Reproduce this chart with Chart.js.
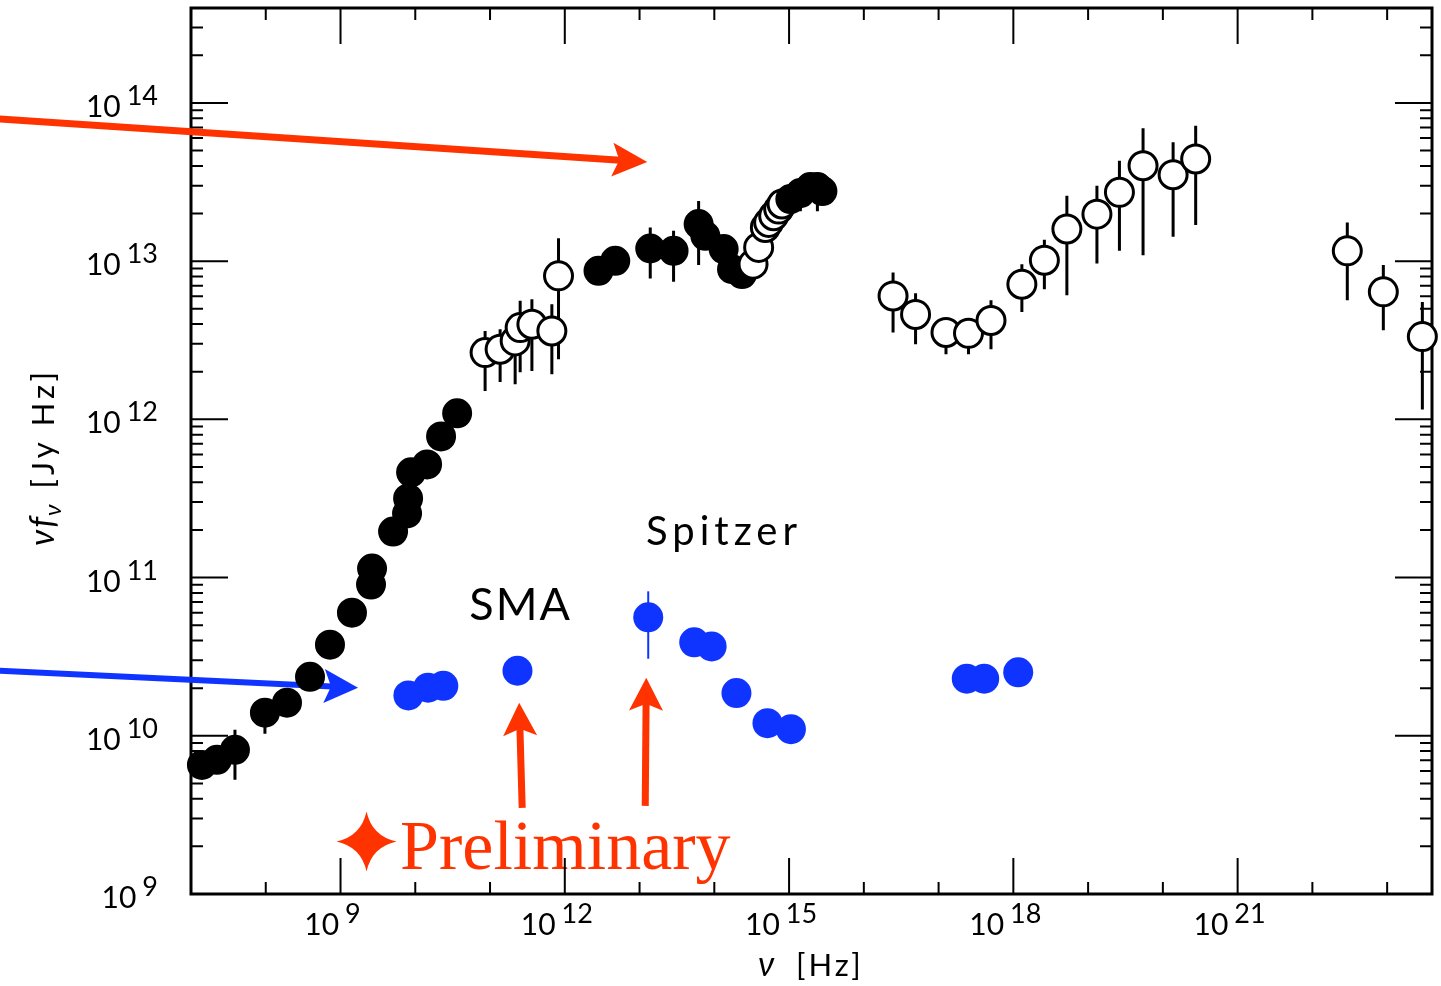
<!DOCTYPE html>
<html>
<head>
<meta charset="utf-8">
<script src="https://cdn.jsdelivr.net/npm/chart.js@4.4.1/dist/chart.umd.min.js"></script>
<style>
  html, body { margin: 0; padding: 0; background: #fff; }
  #wrap { width: 1441px; height: 986px; position: relative; }
</style>
</head>
<body>
<div id="wrap"><canvas id="sed"></canvas></div>
<script>
// values are log10: x = log10(nu / Hz), y = log10(nu f_nu / Jy Hz)

// radio (filled black)
const blackLoX = [7.146, 7.347, 7.588, 7.989, 8.284, 8.592, 8.859, 9.153, 9.408, 9.422, 9.703, 9.890, 9.904, 9.944, 10.158, 10.345, 10.560];
const blackLoY = [9.816, 9.848, 9.911, 10.146, 10.209, 10.373, 10.576, 10.778, 10.956, 11.057, 11.291, 11.405, 11.500, 11.665, 11.715, 11.892, 12.038];
const blackLoErrLo = [null, null, 9.722, 10.013, null, null, null, null, null, null, null, null, null, null, null, null, null];
const blackLoErrHi = [null, null, 10.038, null, null, null, null, null, null, null, null, null, null, null, null, null, 12.12];

// sub-mm (open)
const openMmX = [10.934, 11.135, 11.336, 11.403, 11.560, 11.827, 11.916];
const openMmY = [12.422, 12.443, 12.496, 12.580, 12.601, 12.559, 12.907];
const openMmErrLo = [12.179, 12.236, 12.222, 12.297, 12.306, 12.285, 12.380];
const openMmErrHi = [12.559, 12.570, 12.665, 12.749, 12.759, 12.728, 13.144];

// infrared (filled black)
const blackIrX = [12.451, 12.675, 13.143, 13.455, 13.790, 13.880, 14.125, 14.237, 14.371];
const blackIrY = [12.939, 13.002, 13.080, 13.065, 13.234, 13.160, 13.076, 12.949, 12.918];
const blackIrErrLo = [null, null, 12.891, 12.869, 12.975, null, null, null, null];
const blackIrErrHi = [null, null, 13.213, 13.192, 13.380, null, null, null, null];

// optical (open)
const openOptX = [14.518, 14.593, 14.683, 14.727, 14.794, 14.861, 14.906];
const openOptY = [12.981, 13.087, 13.213, 13.245, 13.287, 13.329, 13.361];

// UV (filled black)
const blackUvX = [15.017, 15.151, 15.285, 15.379, 15.446];
const blackUvY = [13.392, 13.430, 13.468, 13.468, 13.443];
const blackUvErrLo = [null, 13.316, null, 13.316, null];
const blackUvErrHi = [null, null, null, null, null];

// X-ray (open)
const openXrX = [16.391, 16.692, 17.099, 17.400, 17.701, 18.114, 18.415, 18.716, 19.118, 19.419, 19.735, 20.137, 20.439];
const openXrY = [12.780, 12.663, 12.549, 12.544, 12.625, 12.854, 13.006, 13.203, 13.297, 13.435, 13.603, 13.546, 13.646];
const openXrErrLo = [12.549, 12.475, 12.411, 12.411, 12.443, 12.679, 12.823, 12.785, 12.985, 13.065, 13.038, 13.154, 13.228];
const openXrErrHi = [12.928, 12.797, 12.549, 12.544, 12.753, 12.980, 13.135, 13.413, 13.477, 13.635, 13.840, 13.751, 13.856];

// gamma-ray (open)
const openGamX = [22.467, 22.949, 23.471];
const openGamY = [13.065, 12.806, 12.523];
const openGamErrLo = [12.753, 12.563, 12.063];
const openGamErrHi = [13.245, 12.975, 12.742];

// preliminary (blue)
const blueX = [9.908, 10.171, 10.375, 11.367, 13.116, 13.731, 13.964, 14.296, 14.711, 15.025, 17.377, 17.610, 18.065];
const blueY = [10.255, 10.304, 10.316, 10.411, 10.749, 10.591, 10.565, 10.270, 10.080, 10.042, 10.361, 10.361, 10.401];
const blueErrLo = [null, null, null, null, 10.487, null, null, null, null, null, null, null, null];
const blueErrHi = [null, null, null, null, 10.913, null, null, null, null, null, null, null, null];

// axes
const xRange = [7, 23.6];
const yRange = [9, 14.6];
const xTickExps = [8, 9, 10, 11, 12, 13, 14, 15, 16, 17, 18, 19, 20, 21, 22, 23];
const xLabelExps = [9, 12, 15, 18, 21];
const yLabelExps = [9, 10, 11, 12, 13, 14];

// annotations (log coords)
const redArrow = [[4.442, 13.899], [13.103, 13.627]];
const blueArrow = [[4.442, 10.411], [9.234, 10.304]];
const upArrows = [[[11.430, 9.544], [11.390, 10.209]], [[13.076, 9.557], [13.090, 10.367]]];
const labels = [
  { text: 'SMA', at: [11.409, 10.823] },
  { text: 'Spitzer', at: [14.130, 11.285] }
];
const prelimStar = [9.348, 9.332];
const prelimText = { text: 'Preliminary', at: [9.797, 9.158] };

const RED = '#ff3300';
const BLUE = '#1034ff';
const SANS = 'Lato, "DejaVu Sans", sans-serif';

const pow = v => Math.pow(10, v);
const pts = (xs, ys) => xs.map((x, i) => ({ x: pow(x), y: pow(ys[i]) }));

function filled(data, lo, hi) {
  return { data, errLo: lo, errHi: hi, backgroundColor: '#000', borderColor: '#000', borderWidth: 2, pointRadius: 14, errWidth: 3 };
}
function open(data, lo, hi) {
  return { data, errLo: lo, errHi: hi, backgroundColor: '#fff', borderColor: '#000', borderWidth: 3, pointRadius: 14, errWidth: 3 };
}

const datasets = [
  filled(pts(blackLoX, blackLoY), blackLoErrLo, blackLoErrHi),
  open(pts(openMmX, openMmY), openMmErrLo, openMmErrHi),
  filled(pts(blackIrX, blackIrY), blackIrErrLo, blackIrErrHi),
  open(pts(openOptX, openOptY), null, null),
  filled(pts(blackUvX, blackUvY), blackUvErrLo, blackUvErrHi),
  open(pts(openXrX, openXrY), openXrErrLo, openXrErrHi),
  open(pts(openGamX, openGamY), openGamErrLo, openGamErrHi),
  { data: pts(blueX, blueY), errLo: blueErrLo, errHi: blueErrHi, backgroundColor: BLUE, borderColor: BLUE, borderWidth: 0, pointRadius: 15, errWidth: 2 }
];
// later datasets on top
datasets.forEach((d, i) => { d.order = datasets.length - i; d.clip = false; d.pointHoverRadius = d.pointRadius; });

function arrow(ctx, p0, p1, color, w, headLen, headHalf) {
  const ang = Math.atan2(p1[1] - p0[1], p1[0] - p0[0]);
  const len = Math.hypot(p1[0] - p0[0], p1[1] - p0[1]);
  ctx.save();
  ctx.translate(p1[0], p1[1]);
  ctx.rotate(ang);
  ctx.fillStyle = color;
  ctx.fillRect(-len, -w / 2, len - headLen + 8, w);
  ctx.beginPath();
  ctx.moveTo(0, 0);
  ctx.lineTo(-headLen, -headHalf);
  ctx.lineTo(-headLen + 7, 0);
  ctx.lineTo(-headLen, headHalf);
  ctx.closePath();
  ctx.fill();
  ctx.restore();
}

function star(ctx, cx, cy, s, color) {
  const k = s * 0.18;
  ctx.save();
  ctx.fillStyle = color;
  ctx.beginPath();
  ctx.moveTo(cx, cy - s);
  ctx.quadraticCurveTo(cx + k, cy - k, cx + s, cy);
  ctx.quadraticCurveTo(cx + k, cy + k, cx, cy + s);
  ctx.quadraticCurveTo(cx - k, cy + k, cx - s, cy);
  ctx.quadraticCurveTo(cx - k, cy - k, cx, cy - s);
  ctx.fill();
  ctx.restore();
}

function spaced(ctx, px) {
  if ('letterSpacing' in ctx) ctx.letterSpacing = px + 'px';
}

const sedDecor = {
  id: 'sedDecor',
  beforeDatasetsDraw(chart) {
    const { ctx, chartArea: a, scales: { x, y } } = chart;
    const P = p => [x.getPixelForValue(pow(p[0])), y.getPixelForValue(pow(p[1]))];

    // preliminary label
    const sp = P(prelimStar);
    star(ctx, sp[0], sp[1], 30, RED);
    const tp = P(prelimText.at);
    ctx.save();
    ctx.fillStyle = RED;
    ctx.font = '70px "Liberation Serif", "Times New Roman", serif';
    ctx.textAlign = 'left';
    ctx.textBaseline = 'alphabetic';
    ctx.fillText(prelimText.text, tp[0], tp[1]);
    ctx.restore();

    // frame + ticks
    ctx.save();
    ctx.strokeStyle = '#000';
    ctx.lineWidth = 3;
    ctx.strokeRect(a.left, a.top, a.right - a.left, a.bottom - a.top);
    ctx.lineWidth = 2;
    ctx.beginPath();
    for (let e = Math.floor(yRange[0]); e <= Math.ceil(yRange[1]); e++) {
      for (let m = 1; m <= 9; m++) {
        const lv = e + Math.log10(m);
        if (lv < yRange[0] || lv > yRange[1]) continue;
        const py = y.getPixelForValue(m * pow(e));
        const len = m === 1 ? 37 : 12;
        ctx.moveTo(a.left, py); ctx.lineTo(a.left + len, py);
        ctx.moveTo(a.right, py); ctx.lineTo(a.right - len, py);
      }
    }
    xTickExps.forEach(e => {
      const px = x.getPixelForValue(pow(e));
      const len = xLabelExps.includes(e) ? 36 : 12;
      ctx.moveTo(px, a.bottom); ctx.lineTo(px, a.bottom - len);
      ctx.moveTo(px, a.top); ctx.lineTo(px, a.top + len);
    });
    ctx.stroke();
    ctx.restore();

    // arrows
    arrow(ctx, P(redArrow[0]), P(redArrow[1]), RED, 7, 35, 17);
    arrow(ctx, P(blueArrow[0]), P(blueArrow[1]), BLUE, 6, 34, 17);
    upArrows.forEach(ua => arrow(ctx, P(ua[0]), P(ua[1]), RED, 7, 33, 17));

    // error bars
    chart.data.datasets.forEach(ds => {
      if (!ds.errLo && !ds.errHi) return;
      ctx.save();
      ctx.strokeStyle = ds.borderColor;
      ctx.lineWidth = ds.errWidth;
      ctx.beginPath();
      ds.data.forEach((d, i) => {
        const lo = ds.errLo ? ds.errLo[i] : null;
        const hi = ds.errHi ? ds.errHi[i] : null;
        if (lo === null && hi === null) return;
        const px = x.getPixelForValue(d.x);
        const y0 = lo === null ? y.getPixelForValue(d.y) : y.getPixelForValue(pow(lo));
        const y1 = hi === null ? y.getPixelForValue(d.y) : y.getPixelForValue(pow(hi));
        ctx.moveTo(px, y0); ctx.lineTo(px, y1);
      });
      ctx.stroke();
      ctx.restore();
    });
  },
  afterDatasetsDraw(chart) {
    const { ctx, scales: { x, y } } = chart;
    ctx.save();
    ctx.fillStyle = '#000';
    ctx.textAlign = 'center';
    ctx.textBaseline = 'middle';
    labels.forEach(l => {
      ctx.font = (l.text === 'SMA' ? 45 : 40) + 'px ' + SANS;
      spaced(ctx, l.text === 'SMA' ? 2 : 5);
      ctx.fillText(l.text, x.getPixelForValue(pow(l.at[0])), y.getPixelForValue(pow(l.at[1])));
    });
    ctx.restore();
  },
  afterDraw(chart) {
    const { ctx, chartArea: a, scales: { x, y } } = chart;
    ctx.save();
    ctx.fillStyle = '#000';
    ctx.textBaseline = 'alphabetic';
    const baseFont = '30px ' + SANS;
    const expFont = '27px ' + SANS;

    // y labels
    yLabelExps.forEach(e => {
      const py = y.getPixelForValue(pow(e));
      const right = a.left - 33;
      ctx.font = expFont;
      ctx.textAlign = 'right';
      const ew = ctx.measureText(String(e)).width;
      ctx.fillText(String(e), right, py + 2);
      ctx.font = baseFont;
      ctx.fillText('10', right - ew - 6, py + 14);
    });

    // x labels
    xLabelExps.forEach(e => {
      const px = x.getPixelForValue(pow(e));
      ctx.font = baseFont;
      const w10 = ctx.measureText('10').width;
      ctx.font = expFont;
      const we = ctx.measureText(String(e)).width;
      const left = px - 8 - (w10 + 6 + we) / 2;
      ctx.textAlign = 'left';
      ctx.font = baseFont;
      ctx.fillText('10', left, a.bottom + 41);
      ctx.font = expFont;
      ctx.fillText(String(e), left + w10 + 6, a.bottom + 29);
    });

    // x title: nu [Hz]
    ctx.textAlign = 'left';
    ctx.font = 'italic 34px ' + SANS;
    ctx.fillText('\u03bd', 758, 976);
    ctx.font = '31px ' + SANS;
    spaced(ctx, 3);
    ctx.fillText('[Hz]', 796, 976);
    spaced(ctx, 0);

    // y title: nu f_nu [Jy Hz]
    ctx.translate(54, 546);
    ctx.rotate(-Math.PI / 2);
    let cx = 0;
    ctx.font = 'italic 34px ' + SANS;
    ctx.fillText('\u03bd', cx, 0); cx += ctx.measureText('\u03bd').width + 2;
    ctx.fillText('f', cx, 0); cx += ctx.measureText('f').width + 1;
    ctx.font = 'italic 24px ' + SANS;
    ctx.fillText('\u03bd', cx, 7); cx += ctx.measureText('\u03bd').width + 16;
    ctx.font = '31px ' + SANS;
    spaced(ctx, 4);
    ctx.fillText('[Jy Hz]', cx, 0);
    ctx.restore();
  }
};

new Chart(document.getElementById('sed'), {
  type: 'scatter',
  data: { datasets },
  options: {
    responsive: true,
    maintainAspectRatio: false,
    animation: false,
    events: [],
    layout: { autoPadding: false, padding: { left: 191, right: 9, top: 8, bottom: 92 } },
    plugins: { legend: { display: false }, tooltip: { enabled: false } },
    scales: {
      x: { type: 'logarithmic', display: false, min: pow(xRange[0]), max: pow(xRange[1]) },
      y: { type: 'logarithmic', display: false, min: pow(yRange[0]), max: pow(yRange[1]) }
    }
  },
  plugins: [sedDecor]
});
</script>
</body>
</html>
